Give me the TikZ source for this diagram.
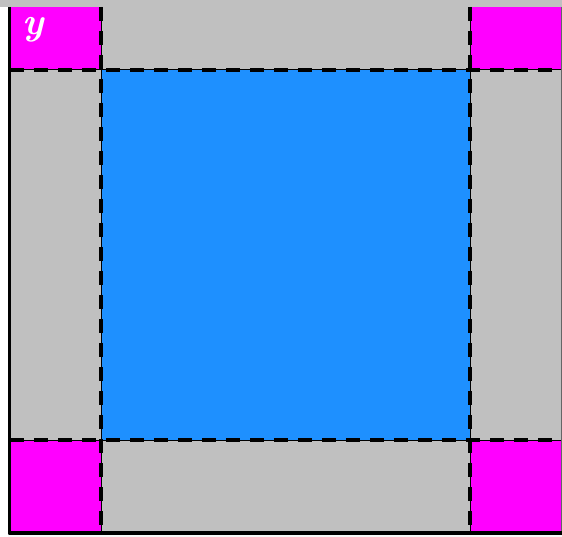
\documentclass[tikz,border=0pt]{standalone}
\usepackage{tikz}
\usetikzlibrary{positioning}

\definecolor{panelgray}{RGB}{192,192,192}
\definecolor{cornerpink}{RGB}{255,0,255}
\definecolor{middleblue}{RGB}{30,144,255}

\begin{document}
\begin{tikzpicture}[
                x=1pt, y=-1pt,
                corner/.style = {
                    fill = cornerpink
                },
                cutline/.style = {
                    draw = black,
                    line width = 4pt,
                    dash pattern = on 14pt off 10pt
                },
                thinline/.style = {
                    draw = black,
                    line width = 1pt
                },
                edge/.style = {
                    draw = black,
                    line width = 3.5pt,
                    line join = round
                }
            ]
            \useasboundingbox (0,0) rectangle (562,537);
            % 
            \fill[panelgray] (0,0) rectangle (562,537);
            \fill[white] (0,7) rectangle (8,537);
            \fill[white!90!panelgray] (8,535) rectangle (562,537);
            % 
            \fill[corner] (10,7) rectangle (101,70);
            \fill[corner] (470,7) rectangle (561,70);
            \fill[corner] (10,440) rectangle (101,533);
            \fill[corner] (470,440) rectangle (561,533);
            % 
            \fill[middleblue] (101,70) rectangle (470,440);
            % 
            \node[text=white, font=\fontsize{38}{38}\selectfont\bfseries\itshape, inner sep=0pt] (ylabel) at (33,30) {y};
            % 
            \draw[thinline] (101,7) -- (101,533);
            \draw[thinline] (470,7) -- (470,533);
            \draw[thinline] (10,70) -- (562,70);
            \draw[thinline] (10,440) -- (562,440);
            % 
            \draw[cutline] (101,7) -- (101,533);
            \draw[cutline] (470,7) -- (470,533);
            \draw[cutline] (10,70) -- (562,70);
            \draw[cutline] (10,440) -- (562,440);
            % 
            \draw[black!60, line width=1pt] (561,7) -- (561,533);
            \draw[edge] (9.5,7) -- (9.5,533) -- (562,533);
            % 
        \end{tikzpicture}
\end{document}
